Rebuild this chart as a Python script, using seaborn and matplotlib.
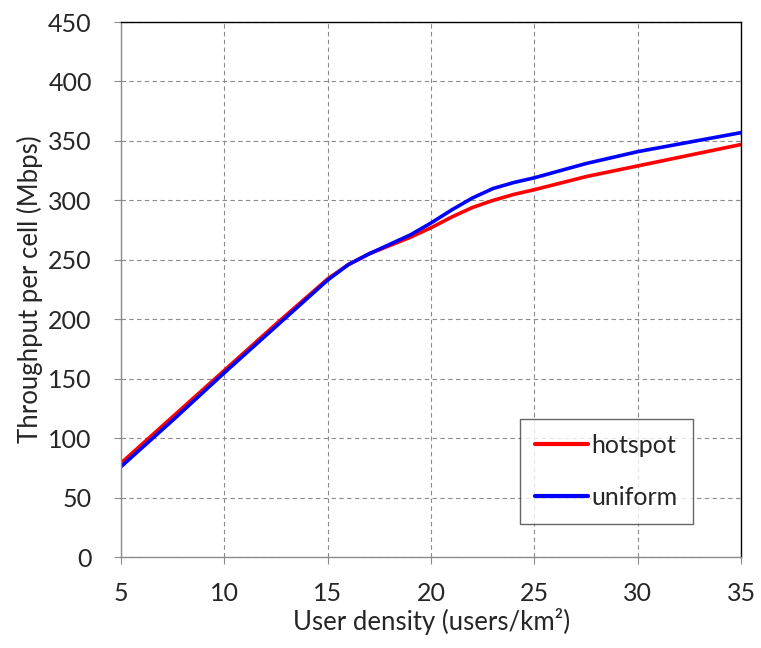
import seaborn as sns
import pandas as pd
import matplotlib.pyplot as plt

# Values
density = [5, 7.5, 10, 12.5, 15, 16, 17, 18, 19, 20, 21, 22, 23, 24, 25, 27.5, 30, 32.5, 35]
hotspot = [79, 118, 157, 196, 234, 246, 255, 262, 269, 277, 286, 294, 300, 305, 309, 320, 329, 338, 347]
uniform = [76, 115, 155, 194, 233, 246, 255, 263, 271, 281, 292, 302, 310, 315, 319, 331, 341, 349, 357]
series_names = ["hotspot", "uniform"]
series_colors = ["#ff0000", "#0000ff"]
x_ticks = [5, 10, 15, 20, 25, 30, 35]
y_ticks = [0, 50, 100, 150, 200, 250, 300, 350, 400, 450]

df = pd.concat([
    pd.DataFrame({"density": density, "throughput": hotspot, "scenario": "hotspot"}),
    pd.DataFrame({"density": density, "throughput": uniform, "scenario": "uniform"}),
])

sns.set_style("white")
plt.rcParams["font.family"] = ["Lato", "DejaVu Sans"]

fig = plt.figure(figsize=(7.61, 6.48), dpi=100)
ax = fig.add_axes([0.159, 0.1404, 0.815, 0.8256])

sns.lineplot(data=df, x="density", y="throughput", hue="scenario",
             hue_order=series_names, palette=series_colors,
             linewidth=2.6, ax=ax)

ax.set_xlim(5, 35)
ax.set_ylim(0, 450)
ax.set_xticks(x_ticks)
ax.set_yticks(y_ticks)
ax.grid(True, color="#8c8c8c", linestyle=(0, (4, 3)), linewidth=0.8)
ax.tick_params(axis="both", direction="out", length=5, width=0.8,
               color="#8c8c8c", labelsize=18, bottom=True, left=True)
ax.tick_params(axis="x", pad=13)
ax.tick_params(axis="y", pad=16)

for side in ["left", "bottom"]:
    ax.spines[side].set_color("#8c8c8c")
    ax.spines[side].set_linewidth(1.0)
for side in ["top", "right"]:
    ax.spines[side].set_color("#000000")
    ax.spines[side].set_linewidth(1.0)

ax.set_xlabel("User density (users/km²)", fontsize=18.5, labelpad=2)
ax.set_ylabel("Throughput per cell (Mbps)", fontsize=18.5, labelpad=4)

leg = ax.legend(loc="upper left", bbox_to_anchor=(0.644, 0.258),
                fontsize=18, frameon=True, fancybox=False, shadow=False,
                handlelength=2.1, handletextpad=0.15, labelspacing=1.15,
                borderpad=0.6, borderaxespad=0)
leg.get_frame().set_edgecolor("#404040")
leg.get_frame().set_linewidth(1.0)
for line in leg.get_lines():
    line.set_linewidth(3.0)

plt.savefig("out.png", dpi=100)
